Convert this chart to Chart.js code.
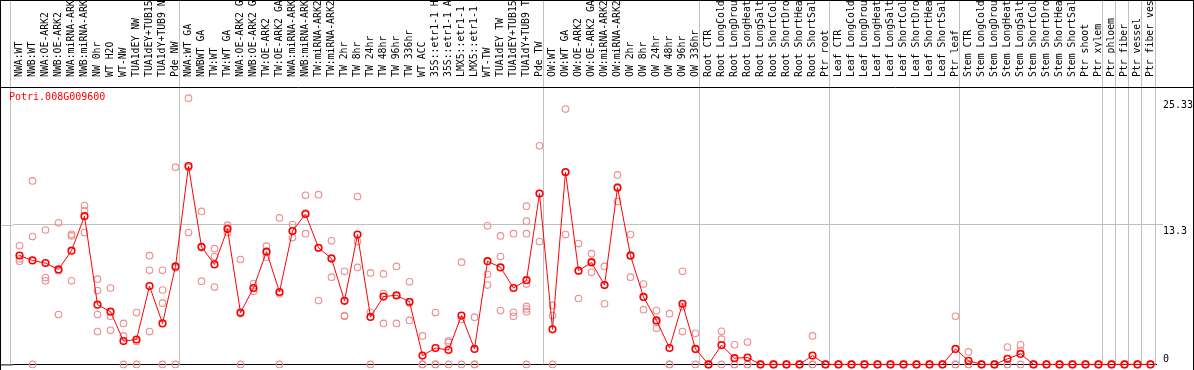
<!DOCTYPE html>
<html>
<head>
<meta charset="utf-8">
<script src="https://cdn.jsdelivr.net/npm/chart.js@4.4.1/dist/chart.umd.min.js"></script>
<style>
  html, body { margin: 0; padding: 0; background: #fff; }
</style>
</head>
<body>
<canvas id="chart" width="1194" height="370"></canvas>
<script>
const geneId = "Potri.008G009600";

const samples = [
  "NWA:WT", "NWB:WT", "NWA:OE-ARK2", "NWB:OE-ARK2", "NWA:miRNA-ARK2", "NWB:miRNA-ARK2",
  "NW 0hr", "WT H2O", "WT-NW", "TUA1dEY NW", "TUA1dEY+TUB15 NW", "TUA1dY+TUB9 NW", "Pde NW",
  "NWA:WT GA", "NWBWT GA", "TW:WT", "TW:WT GA", "NWA:OE-ARK2 GA", "NWB:OE-ARK2 GA",
  "TW:OE-ARK2", "TW:OE-ARK2 GA", "NWA:miRNA-ARK2", "NWB:miRNA-ARK2", "TW:miRNA-ARK2",
  "TW:miRNA-ARK2", "TW 2hr", "TW 8hr", "TW 24hr", "TW 48hr", "TW 96hr", "TW 336hr", "WT ACC",
  "35S::etr1-1 H2O", "35S::etr1-1 ACC", "LMX5::etr1-1 H2O", "LMX5::etr1-1 ACC", "WT-TW",
  "TUA1dEY TW", "TUA1dEY+TUB15 TW", "TUA1dY+TUB9 TW", "Pde TW",
  "OW:WT", "OW:WT GA", "OW:OE-ARK2", "OW:OE-ARK2 GA", "OW:miRNA-ARK2", "OW:miRNA-ARK2",
  "OW 2hr", "OW 8hr", "OW 24hr", "OW 48hr", "OW 96hr", "OW 336hr",
  "Root CTR", "Root LongCold", "Root LongDrought", "Root LongHeat", "Root LongSalt",
  "Root ShortCold", "Root ShortDrought", "Root ShortHeat", "Root ShortSalt", "Ptr root",
  "Leaf CTR", "Leaf LongCold", "Leaf LongDrought", "Leaf LongHeat", "Leaf LongSalt",
  "Leaf ShortCold", "Leaf ShortDrought", "Leaf ShortHeat", "Leaf ShortSalt", "Ptr leaf",
  "Stem CTR", "Stem LongCold", "Stem LongDrought", "Stem LongHeat", "Stem LongSalt",
  "Stem ShortCold", "Stem ShortDrought", "Stem ShortHeat", "Stem ShortSalt", "Ptr shoot", "Ptr xylem",
  "Ptr phloem", "Ptr fiber", "Ptr vessel", "Ptr fiber vessel"
];

// index of the first sample of each experiment block
const groupStarts = [0, 13, 41, 53, 63, 73, 84, 85, 86, 87];

// mean expression per sample (red line)
const meanValues = [
  10.36, 9.89, 9.64, 9.04, 10.82, 14.1, 5.68, 5.02, 2.22, 2.37, 7.45, 3.9, 9.32,
  18.87, 11.19, 9.51, 12.88, 4.93, 7.27, 10.73, 6.89, 12.69, 14.31, 11.1, 10.07, 6.05,
  12.35, 4.52, 6.45, 6.58, 5.96, 0.84, 1.56, 1.37, 4.65, 1.47, 9.82, 9.23, 7.27, 8.01, 16.25,
  3.34, 18.3, 8.92, 9.7, 7.55, 16.81, 10.35, 6.42, 4.18, 1.56, 5.77, 1.47,
  0, 1.84, 0.59, 0.65, 0, 0, 0, 0, 0.84, 0,
  0, 0, 0, 0, 0, 0, 0, 0, 0, 1.47,
  0.34, 0, 0, 0.53, 1.0, 0, 0, 0, 0, 0, 0,
  0, 0, 0, 0
];

// individual replicates per sample (pink circles)
const replicateValues = [
  [11.29, 10.04, 9.82], [17.46, 12.16, 0], [12.79, 8.26, 7.95], [13.47, 8.91, 4.74],
  [12.38, 12.22, 7.95], [15.12, 14.62, 12.54], [8.11, 7.02, 4.74, 3.12], [7.27, 4.58, 3.24],
  [3.9, 2.71, 0], [4.93, 2.18, 0], [10.35, 8.95, 3.12], [8.95, 7.08, 5.83, 0], [18.77, 9.19, 0],
  [25.33, 18.74, 12.54], [14.56, 11.09, 7.92], [11.01, 10.26, 7.36], [13.25, 13.0, 12.54],
  [9.98, 4.81, 0], [7.7, 7.27, 6.95], [11.25, 10.73, 10.2], [13.94, 6.73, 0],
  [13.31, 12.69, 12.07], [16.09, 14.4, 12.44], [16.15, 11.07, 6.08], [11.76, 10.15, 8.3],
  [8.86, 4.65, 4.58], [15.97, 11.69, 9.23], [8.7, 4.96, 0], [8.61, 6.74, 3.9],
  [9.32, 6.52, 3.9], [7.86, 5.84, 4.18], [2.71, 0, 0], [4.93, 0, 0], [2.25, 2.09, 0],
  [9.73, 4.27, 0], [4.49, 0, 0], [13.19, 8.58, 7.55], [12.22, 10.26, 5.12],
  [12.44, 4.96, 4.58], [15.06, 13.63, 12.44, 7.64, 5.52, 5.27, 5.02, 0], [20.8, 16.26, 11.69],
  [5.61, 4.65, 0], [24.29, 18.26, 12.35], [11.5, 8.89, 6.27], [10.54, 9.8, 8.76],
  [9.32, 7.56, 5.77], [18.03, 16.9, 15.5], [12.35, 10.4, 8.3], [7.64, 6.41, 5.21],
  [5.12, 3.99, 3.43], [4.83, 0, 0], [8.86, 5.49, 3.12], [2.96, 1.45, 0],
  [0, 0, 0], [3.15, 2.4, 0], [1.87, 0, 0], [2.12, 0, 0], [0, 0, 0], [0, 0, 0], [0, 0, 0],
  [0, 0, 0], [2.71, 0, 0], [0, 0, 0],
  [0, 0, 0], [0, 0, 0], [0, 0, 0], [0, 0, 0], [0, 0, 0], [0, 0, 0], [0, 0, 0], [0, 0, 0],
  [0, 0, 0], [4.58, 0, 0],
  [1.19, 0, 0], [0, 0, 0], [0, 0, 0], [1.65, 0, 0], [1.87, 1.31, 0], [0, 0, 0], [0, 0, 0],
  [0, 0, 0], [0, 0, 0], [0, 0, 0], [0, 0, 0],
  [0, 0, 0], [0, 0, 0], [0, 0, 0], [0, 0, 0]
];

const yTicks = [0, 13.3, 25.33];
const yMax = 26.3;

const monoFont = { family: "'DejaVu Sans Mono', monospace", size: 10 };

// one scatter row per replicate slot, so every circle sits on its own category
const maxReps = Math.max(...replicateValues.map(r => r.length));
const replicateSets = [];
for (let k = 0; k < maxReps; k++) {
  replicateSets.push({
    label: "rep" + (k + 1),
    data: replicateValues.map(r => (k < r.length ? r[k] : null)),
    showLine: false,
    borderColor: "rgba(236,142,142,1)",
    pointBorderColor: "rgba(236,142,142,1)",
    pointBackgroundColor: "rgba(0,0,0,0)",
    pointRadius: 3.3,
    pointBorderWidth: 1.1,
    clip: false,
  });
}

const overlay = {
  id: "overlay",
  beforeDatasetsDraw(chart) {
    const { ctx, chartArea, scales } = chart;
    const x = scales.x;
    ctx.save();
    ctx.strokeStyle = "#c0c0c0";
    ctx.lineWidth = 1;
    const seps = groupStarts.map(i => Math.floor(x.getPixelForValue(i) - 9) + 0.5);
    seps.push(Math.floor(x.getPixelForValue(samples.length - 1) + 5) + 0.5);
    seps.forEach(px => {
      ctx.beginPath();
      ctx.moveTo(px, 0);
      ctx.lineTo(px, chartArea.bottom);
      ctx.stroke();
    });
    // gridline at 13.3 continues to the left frame
    const yMid = Math.round(scales.y.getPixelForValue(13.3)) + 0.5;
    ctx.beginPath();
    ctx.moveTo(0, yMid);
    ctx.lineTo(chartArea.left, yMid);
    ctx.stroke();
    ctx.restore();
  },
  afterDraw(chart) {
    const { ctx, chartArea, width, height } = chart;
    ctx.save();
    ctx.strokeStyle = "#000";
    ctx.lineWidth = 1;
    ctx.beginPath();
    ctx.moveTo(0, 0.5); ctx.lineTo(width, 0.5);
    ctx.moveTo(0.5, 0); ctx.lineTo(0.5, height);
    ctx.moveTo(width - 0.5, 0); ctx.lineTo(width - 0.5, height);
    ctx.moveTo(0, chartArea.top - 0.5); ctx.lineTo(width, chartArea.top - 0.5);
    ctx.moveTo(0, chartArea.bottom + 0.5); ctx.lineTo(chartArea.left, chartArea.bottom + 0.5);
    ctx.stroke();
    ctx.fillStyle = "#ff0000";
    ctx.font = "10px 'DejaVu Sans Mono', monospace";
    ctx.textBaseline = "middle";
    ctx.fillText(geneId, 9, chartArea.top + 9);
    ctx.restore();
  }
};

new Chart(document.getElementById("chart"), {
  type: "line",
  data: {
    labels: samples,
    datasets: [
      {
        label: geneId,
        data: meanValues,
        borderColor: "#ff0000",
        borderWidth: 1,
        pointBorderColor: "#ff0000",
        pointBackgroundColor: "rgba(0,0,0,0)",
        pointRadius: 3.3,
        pointBorderWidth: 1.6,
        tension: 0,
        clip: false,
      },
      ...replicateSets
    ]
  },
  options: {
    responsive: false,
    animation: false,
    devicePixelRatio: 1,
    layout: { padding: { left: 13, top: 0, right: 0, bottom: 1 } },
    plugins: { legend: { display: false }, tooltip: { enabled: false } },
    scales: {
      x: {
        type: "category",
        position: "top",
        offset: true,
        grid: { display: false },
        border: { display: false },
        ticks: {
          autoSkip: false,
          maxRotation: 90,
          minRotation: 90,
          padding: 3,
          labelOffset: 12,
          color: "#000",
          font: { family: "'DejaVu Sans Mono', monospace", size: 9.8 },
        },
        afterFit(scale) {
          scale.height = 88;
          scale.paddingLeft = 0;
          scale.paddingRight = 0;
        }
      },
      y: {
        position: "right",
        min: 0,
        max: yMax,
        border: { display: false },
        grid: {
          drawTicks: true,
          tickLength: 6,
          color: c => (c.tick && c.tick.value === 0 ? "#000" : c.tick && c.tick.value === 13.3 ? "#c0c0c0" : "rgba(0,0,0,0)"),
          tickColor: c => (c.tick && c.tick.value === 13.3 ? "#c0c0c0" : "rgba(0,0,0,0)"),
        },
        ticks: {
          padding: 0,
          labelOffset: 1,
          color: "#000",
          font: monoFont,
          callback: v => (v === 0 ? ["0", ""] : ["", String(v)]),
        },
        afterBuildTicks(scale) {
          scale.ticks = yTicks.map(v => ({ value: v }));
        },
        afterFit(scale) {
          scale.width = 37;
          scale.paddingTop = 0;
          scale.paddingBottom = 0;
        }
      }
    }
  },
  plugins: [overlay]
});
</script>
</body>
</html>
